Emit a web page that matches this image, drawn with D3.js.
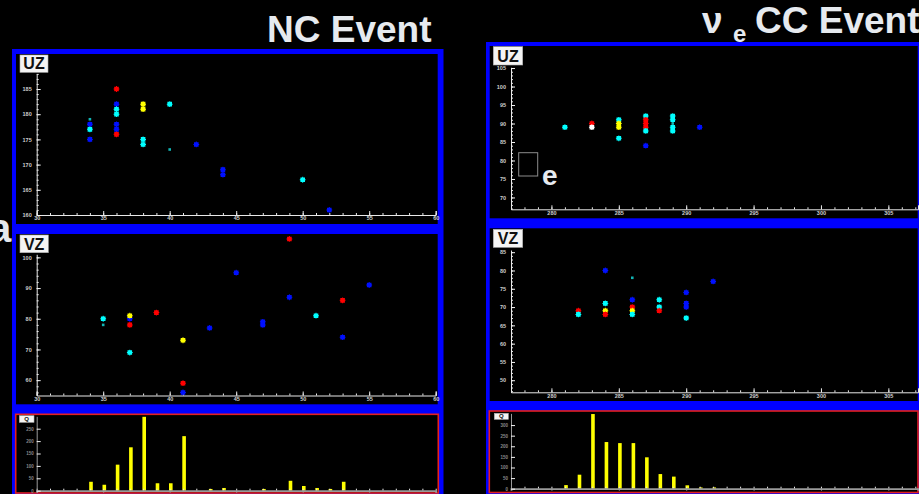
<!DOCTYPE html>
<html>
<head>
<meta charset="utf-8">
<script src="https://cdn.jsdelivr.net/npm/d3@7"></script>
<style>
  html, body { margin: 0; padding: 0; background: #000; overflow: hidden; }
  svg { display: block; }
</style>
</head>
<body>
<svg id="display" width="919" height="494"></svg>
<script>
// ---- NC event: hits as [wire position, z, hit class] ----
const ncUZ = [
  [34, 179, "t"], [34, 178, "b"], [34, 177, "c"], [34, 175, "b"],
  [36, 185, "r"], [36, 182, "b"], [36, 181, "c"], [36, 180, "c"],
  [36, 178, "b"], [36, 177, "b"], [36, 176, "r"],
  [38, 182, "y"], [38, 181, "y"], [38, 175, "c"], [38, 174, "c"],
  [40, 182, "c"], [40, 173, "t"], [42, 174, "b"],
  [44, 169, "b"], [44, 168, "b"], [50, 167, "c"], [52, 161, "b"]
];
const ncVZ = [
  [35, 80, "c"], [35, 78, "t"], [37, 80, "b"], [37, 81, "y"], [37, 78, "r"],
  [37, 69, "c"], [39, 82, "r"], [41, 73, "y"], [41, 59, "r"], [41, 56, "b"],
  [43, 77, "b"], [45, 95, "b"], [47, 79, "b"], [47, 78, "b"], [49, 106, "r"],
  [49, 87, "b"], [51, 81, "c"], [53, 86, "r"], [53, 74, "b"], [55, 91, "b"]
];
const ncQBins   = [34, 35, 36, 37, 38, 39, 40, 41, 43, 44, 47, 49, 50, 51, 52, 53];
const ncQCounts = [36, 24, 105, 175, 298, 30, 30, 220, 7, 11, 7, 40, 19, 11, 7, 36];

// ---- nu_e CC event ----
const ccUZ = [
  [281, 89, "c"], [283, 90, "r"], [283, 89, "w"],
  [285, 91, "c"], [285, 90, "y"], [285, 89, "y"], [285, 86, "c"],
  [287, 92, "c"], [287, 91, "r"], [287, 90, "r"], [287, 89, "r"], [287, 88, "c"], [287, 84, "b"],
  [289, 92, "c"], [289, 91, "c"], [289, 89, "c"], [289, 88, "c"], [289, 90, "t"],
  [291, 89, "b"]
];
const ccVZ = [
  [282, 69, "r"], [282, 68, "c"], [284, 80, "b"], [284, 71, "c"], [284, 69, "y"], [284, 68, "r"],
  [286, 78, "t"], [286, 72, "b"], [286, 70, "r"], [286, 69, "y"], [286, 68, "c"],
  [288, 72, "c"], [288, 70, "c"], [288, 69, "r"],
  [290, 74, "b"], [290, 71, "b"], [290, 70, "b"], [290, 67, "c"], [292, 77, "b"]
];
const ccQBins   = [281, 282, 283, 284, 285, 286, 287, 288, 289, 290, 291, 292];
const ccQCounts = [17, 66, 352, 220, 215, 215, 148, 69, 57, 16, 6, 6];

// ---- tick labels ----
const ncXTicks  = [30, 35, 40, 45, 50, 55, 60];
const ncUZTicks = [160, 165, 170, 175, 180, 185];
const ncVZTicks = [60, 70, 80, 90, 100];
const ncQTicks  = [0, 50, 100, 150, 200, 250];
const ccXTicks  = [280, 285, 290, 295, 300, 305];
const ccUZTicks = [70, 75, 80, 85, 90, 95, 100, 105];
const ccVZTicks = [50, 55, 60, 65, 70, 75, 80, 85];
const ccQTicks  = [0, 50, 100, 150, 200, 250, 300];

const hitColor = { r: "#ff0000", b: "#0010ff", c: "#00ffff", y: "#ffff00", t: "#12b4b4", w: "#ffffff" };
const BIG = "M-2.3,-2.3h4.6v4.6h-4.6z M-0.5,-2.9h1v5.8h-1z M-2.9,-0.5h5.8v1h-5.8z";
const SMALL = "M-1.3,-1.3h2.6v2.6h-2.6z";
const FONT = "'Liberation Sans', Arial, sans-serif";

const svg = d3.select("#display");

// background
svg.append("rect").attr("width", 919).attr("height", 494).attr("fill", "#000");

// stray slide letter partly behind the left frame
svg.append("text").attr("x", -11).attr("y", 242).text("a")
  .attr("font-family", FONT).attr("font-weight", "bold").attr("font-size", 40).attr("fill", "#e4e8ec");

// titles
svg.append("text").attr("x", 267).attr("y", 42).text("NC Event")
  .attr("font-family", FONT).attr("font-weight", "bold").attr("font-size", 37).attr("fill", "#e6eaef");
const cc = svg.append("g").attr("font-family", FONT).attr("font-weight", "bold").attr("fill", "#e6eaef");
cc.append("text").attr("x", 702).attr("y", 33).attr("font-size", 37).text("ν");
cc.append("text").attr("x", 733).attr("y", 42).attr("font-size", 24).text("e");
cc.append("text").attr("x", 755).attr("y", 33).attr("font-size", 37).text("CC Event");

// frames
function frame(x, y, w, h) {
  svg.append("rect").attr("x", x).attr("y", y).attr("width", w).attr("height", h).attr("fill", "#0000ff");
}
function pad(x, y, w, h) {
  svg.append("rect").attr("x", x).attr("y", y).attr("width", w).attr("height", h).attr("fill", "#000");
}
function histPad(x, y, w, h) {
  svg.append("rect").attr("x", x).attr("y", y).attr("width", w).attr("height", h)
    .attr("fill", "#000").attr("stroke", "#e42020").attr("stroke-width", 1.6);
}
frame(12, 49, 431.5, 450);
pad(16, 54, 421.7, 170);
pad(16, 234, 421.7, 170.3);
histPad(15.7, 414.3, 422.6, 78.7);

frame(486, 42, 440, 460);
pad(489.7, 46, 428, 172.3);
pad(489.7, 228.3, 428, 172.7);
histPad(489.3, 411, 428.7, 81.5);

function styleAxis(a, col, txt, fs) {
  a.selectAll("line").attr("stroke", col).attr("stroke-width", 1);
  a.select(".domain").attr("stroke", col).attr("stroke-width", 1);
  a.selectAll("text").attr("fill", txt).attr("font-size", fs)
    .attr("font-family", FONT).attr("font-weight", "bold");
}

function intRange(d, step) {
  const lo = Math.ceil(d[0] / step) * step;
  return d3.range(lo, d[1] + 1e-9, step);
}

function drawAxes(g, x, y, cfg) {
  const x0 = x.range()[0], y0 = y.range()[0];
  const ac = cfg.axisColor || "#e8e8e8";
  // minor ticks
  g.append("g").attr("transform", `translate(0,${y0})`)
    .call(d3.axisBottom(x).tickValues(intRange(x.domain(), 1)).tickSize(-2).tickFormat(""))
    .call(a => { a.select(".domain").remove(); a.selectAll("line").attr("stroke", "#e8e8e8"); });
  if (cfg.yMinor) {
    g.append("g").attr("transform", `translate(${x0},0)`)
      .call(d3.axisLeft(y).tickValues(intRange(y.domain(), cfg.yMinor)).tickSize(-2).tickFormat(""))
      .call(a => { a.select(".domain").remove(); a.selectAll("line").attr("stroke", "#e8e8e8"); });
  }
  // major ticks and labels (the charge views keep their x labels below the pad edge, so none)
  const xAxis = d3.axisBottom(x).tickValues(cfg.xTicks).tickSizeOuter(0).tickPadding(1.5);
  if (cfg.noXLabels) xAxis.tickSize(2).tickFormat(""); else xAxis.tickSize(-4);
  g.append("g").attr("transform", `translate(0,${y0})`)
    .call(xAxis)
    .call(a => styleAxis(a, ac, "#cfcfcf", 5.5))
    .call(a => a.select(".domain").attr("stroke-width", cfg.xAxisWidth || 1));
  g.append("g").attr("transform", `translate(${x0},0)`)
    .call(d3.axisLeft(y).tickValues(cfg.yTicks).tickSize(-4).tickSizeOuter(0).tickPadding(cfg.yPad || 5))
    .call(a => styleAxis(a, ac, cfg.yLabelColor || "#cfcfcf", cfg.yFont || 5.5))
    .call(a => a.selectAll(".tick line").attr("stroke", "#f4f4f4"));
}

function viewLabel(text, x, y, w, h, fs) {
  svg.append("rect").attr("x", x).attr("y", y).attr("width", w).attr("height", h)
    .attr("fill", "#f4f4f4").attr("stroke", "#b0b0b0").attr("stroke-width", 0.6);
  svg.append("text").attr("x", x + w / 2).attr("y", y + h / 2).attr("dy", "0.36em")
    .attr("text-anchor", "middle").attr("font-family", FONT).attr("font-weight", "bold")
    .attr("font-size", fs).attr("fill", "#111").text(text);
}

function scatterView(cfg) {
  const g = svg.append("g");
  const x = d3.scaleLinear().domain(cfg.xDomain).range(cfg.xRange);
  const y = d3.scaleLinear().domain(cfg.yDomain).range(cfg.yRange);
  drawAxes(g, x, y, cfg);
  g.append("g").selectAll("path").data(cfg.hits).join("path")
    .attr("transform", d => `translate(${x(d[0])},${y(d[1])})`)
    .attr("d", d => d[2] === "t" ? SMALL : BIG)
    .attr("fill", d => hitColor[d[2]]);
  return { x, y };
}

function chargeView(cfg) {
  const g = svg.append("g");
  const x = d3.scaleLinear().domain(cfg.xDomain).range(cfg.xRange);
  const y = d3.scaleLinear().domain(cfg.yDomain).range(cfg.yRange);
  g.append("g").selectAll("rect").data(cfg.bins).join("rect")
    .attr("x", d => x(d) - 0.7)
    .attr("width", 3.6)
    .attr("y", (d, i) => y(cfg.counts[i]))
    .attr("height", (d, i) => y(0) - y(cfg.counts[i]))
    .attr("fill", "#ffff00");
  drawAxes(g, x, y, cfg);
}

// ---- NC views ----
scatterView({
  hits: ncUZ, xDomain: [30, 60], xRange: [36.7, 435.7], yDomain: [160, 188], yRange: [215, 73.9],
  xTicks: ncXTicks, yTicks: ncUZTicks, yMinor: 1
});
scatterView({
  hits: ncVZ, xDomain: [30, 60], xRange: [36.7, 435.7], yDomain: [55, 101], yRange: [395.5, 254.3],
  xTicks: ncXTicks, yTicks: ncVZTicks, yMinor: 2
});
chargeView({
  bins: ncQBins, counts: ncQCounts, xDomain: [30, 60], xRange: [36.7, 435.7], yDomain: [0, 300], yRange: [490.7, 416.3],
  xTicks: ncXTicks, yTicks: ncQTicks, axisColor: "#9a9a9a", xAxisWidth: 1.8, yFont: 4.5, yLabelColor: "#8a8a8a", yPad: 3,
  noXLabels: true
});

// ---- nu_e CC views ----
scatterView({
  hits: ccUZ, xDomain: [277, 307.2], xRange: [511, 918], yDomain: [66.8, 105.2], yRange: [209.3, 67.3],
  xTicks: ccXTicks, yTicks: ccUZTicks, yMinor: 1
});
scatterView({
  hits: ccVZ, xDomain: [277, 307.2], xRange: [511, 918], yDomain: [46.7, 85.6], yRange: [392.3, 250.0],
  xTicks: ccXTicks, yTicks: ccVZTicks, yMinor: 1
});
chargeView({
  bins: ccQBins, counts: ccQCounts, xDomain: [277, 307.2], xRange: [511, 918], yDomain: [0, 355], yRange: [488.7, 413.4],
  xTicks: ccXTicks, yTicks: ccQTicks, axisColor: "#9a9a9a", xAxisWidth: 1.8, yFont: 4.5, yLabelColor: "#8a8a8a", yPad: 3,
  noXLabels: true
});

// particle tag in the CC U view
svg.append("rect").attr("x", 518.7).attr("y", 152.7).attr("width", 19).attr("height", 23.3)
  .attr("fill", "none").attr("stroke", "#8c8c8c").attr("stroke-width", 1);
svg.append("text").attr("x", 542).attr("y", 184.5).text("e")
  .attr("font-family", FONT).attr("font-weight", "bold").attr("font-size", 28).attr("fill", "#e6eaef");

// view labels
viewLabel("UZ", 20, 55, 28, 17.3, 16);
viewLabel("VZ", 20, 235, 28.3, 17.7, 16);
viewLabel("Q", 19.3, 415.7, 14.7, 6.6, 6);
viewLabel("UZ", 493.3, 46.7, 29.4, 18.3, 16);
viewLabel("VZ", 493.3, 229.3, 29.4, 18, 16);
viewLabel("Q", 494.3, 413.3, 14, 6, 6);
</script>
</body>
</html>
